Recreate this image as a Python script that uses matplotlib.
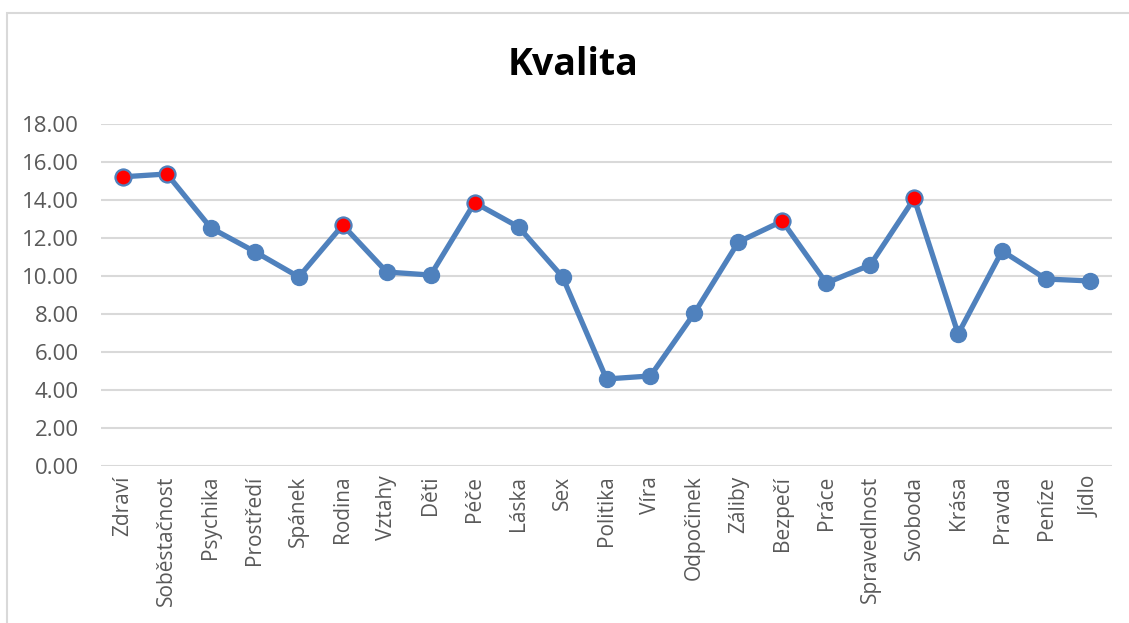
import matplotlib
matplotlib.use("Agg")
import matplotlib.pyplot as plt
from matplotlib.patches import Rectangle

categories = ["Zdraví", "Soběstačnost", "Psychika", "Prostředí", "Spánek", "Rodina",
              "Vztahy", "Děti", "Péče", "Láska", "Sex", "Politika", "Víra", "Odpočinek",
              "Záliby", "Bezpečí", "Práce", "Spravedlnost", "Svoboda", "Krása", "Pravda",
              "Peníze", "Jídlo"]
values = [15.22, 15.37, 12.53, 11.28, 9.95, 12.68, 10.21, 10.05, 13.86, 12.58, 9.95,
          4.58, 4.74, 8.05, 11.79, 12.89, 9.63, 10.58, 14.08, 6.95, 11.32, 9.84, 9.74]
highlighted = ["Zdraví", "Soběstačnost", "Rodina", "Péče", "Bezpečí", "Svoboda"]
yticks = [0, 2, 4, 6, 8, 10, 12, 14, 16, 18]
title = "Kvalita"

W, H = 1129, 623
fig = plt.figure(figsize=(W / 100, H / 100), dpi=100)
fig.patches.append(Rectangle((7 / W, -0.1), 1.2, 1 - 13 / H + 0.1, transform=fig.transFigure,
                             fill=False, edgecolor="#d9d9d9", linewidth=1.5))

ax = fig.add_axes([101 / W, 1 - 466 / H, (1112 - 101) / W, (466 - 124) / H])
x = list(range(len(categories)))
line_color = "#4f81bd"
ax.plot(x, values, color=line_color, linewidth=3.8, marker="o", markersize=11.5,
        markerfacecolor=line_color, markeredgecolor=line_color, zorder=3)
hx = [categories.index(c) for c in highlighted]
hy = [values[i] for i in hx]
ax.plot(hx, hy, linestyle="none", marker="o", markersize=11.5, markerfacecolor="#ff0000",
        markeredgecolor=line_color, markeredgewidth=1.6, zorder=4)

ax.set_xlim(-0.5, len(categories) - 0.5)
ax.set_ylim(0, 18)
ax.set_yticks(yticks)
ax.set_yticklabels([f"{v:.2f}" for v in yticks], fontfamily="Open Sans", fontsize=16, color="#595959")
ax.set_xticks(x)
ax.set_xticklabels(categories, rotation=90, fontfamily="Open Sans", fontsize=15, color="#595959")
ax.tick_params(axis="x", length=0, pad=7)
ax.tick_params(axis="y", length=0, pad=16)
ax.grid(axis="y", color="#d9d9d9", linewidth=1.5)
ax.set_axisbelow(True)
for s in ax.spines.values():
    s.set_visible(False)

fig.text((510 + 637) / 2 / W, 1 - 65 / H, title, ha="center", va="center",
         fontfamily="Open Sans", fontweight="bold", fontsize=27, color="black")

fig.savefig("out.png", dpi=100)
